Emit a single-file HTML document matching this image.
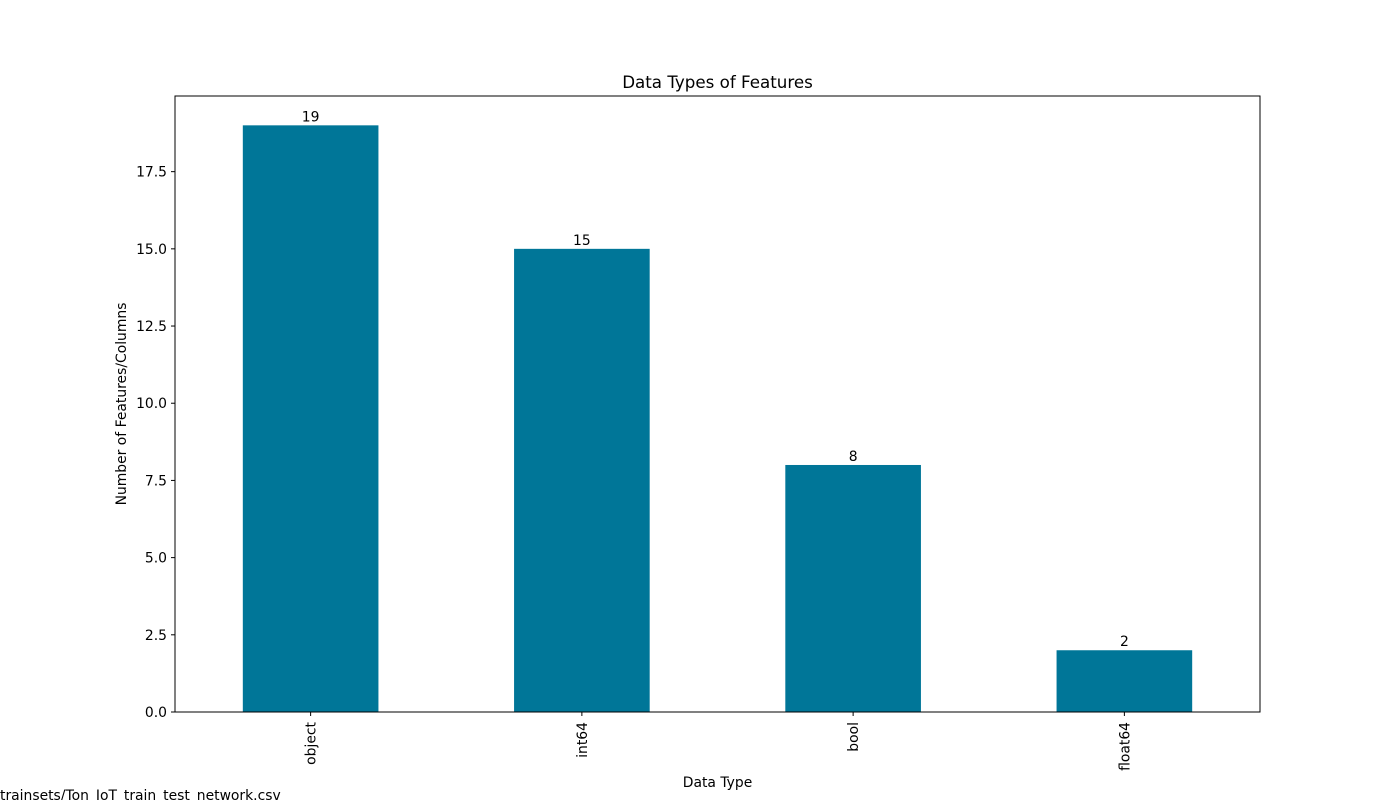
<!DOCTYPE html>
<html><head><meta charset="utf-8"><style>
html,body{margin:0;padding:0;background:#fff;overflow:hidden;width:1400px;height:800px}
svg{display:block;font-family:"DejaVu Sans","Liberation Sans",sans-serif}
</style></head><body>
<svg id="chart" width="1400" height="800" viewBox="0 0 1400 800">
<rect width="1400" height="800" fill="#fff"/>
<g id="plot"></g>
<text x="717.5" y="88" font-size="16.7" text-anchor="middle">Data Types of Features</text>
<text x="717.5" y="787" font-size="13.9" text-anchor="middle">Data Type</text>
<text transform="translate(126,404) rotate(-90)" font-size="13.9" text-anchor="middle">Number of Features/Columns</text>
<text x="0" y="800" font-size="13.9">trainsets/Ton_IoT_train_test_network.csv</text>
</svg>
<script>
const categories = ["object","int64","bool","float64"];
const values = [19,15,8,2];
const yTicks = [0,2.5,5,7.5,10,12.5,15,17.5];
const yTickLabels = ["0.0","2.5","5.0","7.5","10.0","12.5","15.0","17.5"];

const L=175,R=1260,T=96,B=712;
const yMax = Math.max(...values)*1.05;
const y = v => B - v/yMax*(B-T);
const step = (R-L)/categories.length;
const x = i => L + step*(i+0.5);
const bw = step*0.5;
const NS="http://www.w3.org/2000/svg";
const g=document.getElementById('plot');
function mk(tag,attrs){const e=document.createElementNS(NS,tag);for(const k in attrs)e.setAttribute(k,attrs[k]);g.appendChild(e);return e;}

values.forEach((v,i)=>{
  const r=mk('rect',{x:x(i)-bw/2,y:y(v),width:bw,height:B-y(v),fill:'#007698'});
  
  
  const t=mk('text',{x:x(i),y:y(v)-4,'font-size':13.9,'text-anchor':'middle'});
  t.textContent=v;
  
  
  const tk=mk('line',{x1:x(i),x2:x(i),y1:B,y2:B+4,stroke:'#000','stroke-width':1});
  
  
  const lb=mk('text',{transform:`translate(${x(i)+5},${B+10}) rotate(-90)`,'font-size':13.9,'text-anchor':'end'});
  lb.textContent=categories[i];
  
  
});
yTicks.forEach((v,i)=>{
  const tk=mk('line',{x1:L-4,x2:L,y1:y(v),y2:y(v),stroke:'#000','stroke-width':1});
  
  
  const lb=mk('text',{x:L-8,y:y(v)+5,'font-size':13.9,'text-anchor':'end'});
  lb.textContent=yTickLabels[i];
  
  
});
const fr=mk('rect',{x:L,y:T,width:R-L,height:B-T,fill:'none',stroke:'#000','stroke-width':1});


</script>
</body></html>
